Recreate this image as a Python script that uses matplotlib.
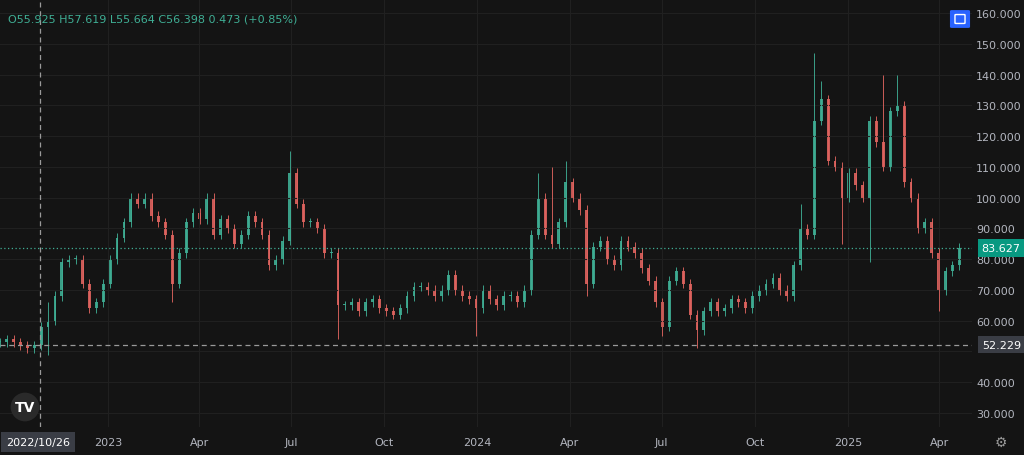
import matplotlib
matplotlib.use("Agg")
import matplotlib.pyplot as plt
from matplotlib.patches import FancyBboxPatch
import numpy as np
import pandas as pd

closes = [53,54,53,52,51,52,58,60,68,79,
          80,80,72,64,66,72,80,87,92,100,
          98,100,94,92,88,72,82,92,95,93,
          100,88,93,90,85,88,94,92,88,78,
          80,86,108,98,92,92,90,82,82,65,
          65,66,63,66,67,64,63,62,64,68,
          71,71,70,68,70,75,70,68,67,64,
          70,67,65,68,68,66,70,88,100,88,
          85,92,105,100,96,72,84,86,80,78,
          86,84,82,77,73,66,58,73,76,72,
          62,57,63,66,63,64,67,66,64,68,
          70,72,74,70,68,78,90,88,125,132,
          112,110,100,108,104,100,125,118,110,128,
          130,105,100,90,92,82,70,76,78,83.627]
spike_high = {7: 66, 42: 115, 78: 108, 80: 110, 82: 112, 118: 147, 119: 138, 128: 140, 130: 140, 116: 98}
spike_low = {7: 49, 25: 66, 49: 54, 69: 55, 85: 68, 101: 51, 122: 85, 126: 79, 136: 63, 96: 55}

dates = pd.date_range("2022-09-16", "2025-04-21", periods=len(closes))
xlabels = ["2023", "Apr", "Jul", "Oct", "2024", "Apr", "Jul", "Oct", "2025", "Apr"]
xlabel_dates = ["2023-01-01","2023-04-01","2023-07-01","2023-10-01","2024-01-01",
                "2024-04-01","2024-07-01","2024-10-01","2025-01-01","2025-04-01"]
yticks = [30,40,50,60,70,80,90,100,110,120,130,140,150,160]
last_price = 83.627
low_line = 52.229

bg = "#141414"
up, dn = "#3fae94", "#e0645f"
fig = plt.figure(figsize=(10.24, 4.56), dpi=100, facecolor=bg)
ax = fig.add_axes([0, 28/456, 972/1024, 428/456], facecolor=bg)

base = pd.Timestamp("2023-01-01")
x = np.array([(d - base).total_seconds() / 86400 for d in dates])
opens = [closes[0]] + closes[:-1]
for i, (xi, o, c) in enumerate(zip(x, opens, closes)):
    hi = spike_high.get(i, max(o, c) + 1.5)
    lo = spike_low.get(i, min(o, c) - 1.5)
    col = up if c >= o else dn
    ax.vlines(xi, lo, hi, color=col, lw=0.7, alpha=0.9)
    ax.bar(xi, max(abs(c - o), 0.3), bottom=min(o, c), width=2.8, color=col, alpha=0.9)

ax.set_xlim(-106.7, 853.5)
ax.set_ylim(25.45, 164.55)
xt = [(pd.Timestamp(d) - base).days for d in xlabel_dates]
ax.set_xticks(xt)
ax.set_xticklabels(xlabels)
ax.set_yticks(yticks)
ax.set_yticklabels(["" if v == 50 else f"{v:.3f}" for v in yticks])
ax.yaxis.tick_right()
ax.tick_params(axis="y", colors="#b2b5be", labelsize=8, length=0, pad=3)
ax.tick_params(axis="x", colors="#b2b5be", labelsize=8, length=0, pad=7)
ax.grid(True, color="#202020", lw=0.8)
for s in ax.spines.values():
    s.set_visible(False)

ax.axhline(last_price, color=up, lw=0.9, ls=(0, (1, 2)))
ax.axhline(low_line, color="#9a9a9a", lw=0.9, ls=(0, (4, 3)))
cross_x = (pd.Timestamp("2022-10-26") - base).days
ax.axvline(cross_x, color="#9a9a9a", lw=0.9, ls=(0, (4, 3)))

span = 164.55 - 25.45
ax.text(1.01, (last_price - 25.45) / span, f"{last_price:.3f}", transform=ax.transAxes,
        va="center", ha="left", color="white", fontsize=8,
        bbox=dict(boxstyle="square,pad=0.35", fc="#089981", ec="none"))
ax.text(1.01, (low_line - 25.45) / span, f"{low_line:.3f}", transform=ax.transAxes,
        va="center", ha="left", color="white", fontsize=8,
        bbox=dict(boxstyle="square,pad=0.35", fc="#3a3d45", ec="none"))
fig.text(6/1024, 1 - 443/456, "2022/10/26", color="white", fontsize=8, va="center", ha="left",
         bbox=dict(boxstyle="square,pad=0.45", fc="#3a3d45", ec="none"))

fig.text(8/1024, 1 - 20/456, "O55.925 H57.619 L55.664 C56.398 0.473 (+0.85%)", color=up,
         fontsize=8, va="center", ha="left")
fig.text(25/1024, 1 - 408/456, "TV", color="white", fontsize=10, fontweight="bold", va="center", ha="center",
         bbox=dict(boxstyle="circle,pad=0.3", fc="#2a2a2a", ec="none"))
# blue button
fig.patches.append(FancyBboxPatch((952/1024, 1 - 28/456), 16/1024, 16/456, boxstyle="round,pad=0.002",
                                  transform=fig.transFigure, fc="#2962ff", ec="none"))
fig.patches.append(FancyBboxPatch((956/1024, 1 - 24/456), 8/1024, 8/456, boxstyle="round,pad=0.001",
                                  transform=fig.transFigure, fc="none", ec="white", lw=1))
fig.text(1001/1024, 1 - 443/456, "⚙", color="#9a9a9a", fontsize=10, va="center", ha="center")

fig.savefig("out.png", dpi=100, facecolor=bg)
